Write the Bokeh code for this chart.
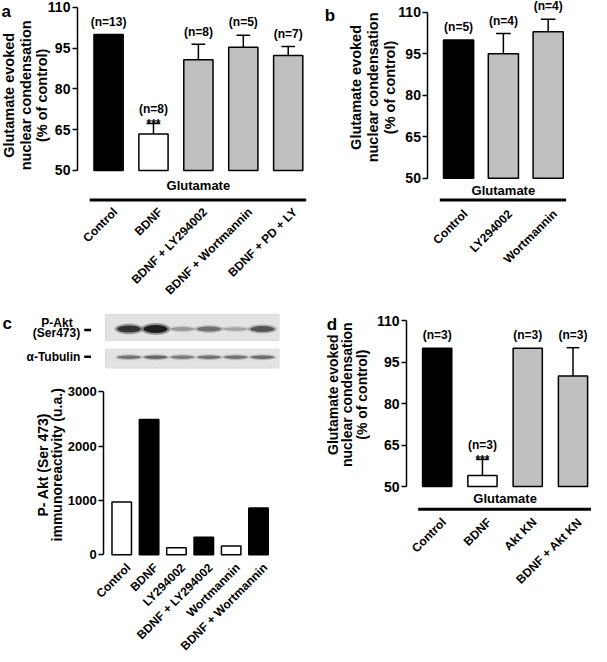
import math
from bokeh.plotting import figure
from bokeh.models import Range1d, FixedTicker, LinearAxis
from bokeh.core.properties import value
from bokeh.embed import file_html
from bokeh.resources import INLINE

FONT = "Liberation Sans"
GRAY = "#c0c0c0"

# ---------------- data ----------------
a_labels = ["Control", "BDNF", "BDNF + LY294002", "BDNF + Wortmannin", "BDNF + PD + LY"]
a_mean = [100, 63.4, 90.7, 95.3, 92.3]
a_sem = [0, 3.9, 5.7, 4.5, 3.3]
a_n = [13, 8, 8, 5, 7]
a_sig = ["", "***", "", "", ""]

b_labels = ["Control", "LY294002", "Wortmannin"]
b_mean = [100, 95.0, 103.0]
b_sem = [0, 7.4, 4.5]
b_n = [5, 4, 4]
b_sig = ["", "", ""]

c_labels = ["Control", "BDNF", "LY294002", "BDNF + LY294002", "Wortmannin", "BDNF + Wortmannin"]
c_vals = [970, 2490, 130, 320, 160, 860]

d_labels = ["Control", "BDNF", "Akt KN", "BDNF + Akt KN"]
d_mean = [100, 54.0, 100, 90.0]
d_sem = [0, 5.8, 0, 10.2]
d_n = [3, 3, 3, 3]
d_sig = ["", "***", "", ""]

cond_ticks = [50, 65, 80, 95, 110]
akt_ticks = [0, 1000, 2000, 3000]

blot_pakt = [0.85, 1.0, 0.3, 0.5, 0.25, 0.65]
blot_tub = [0.6, 0.7, 0.55, 0.6, 0.6, 0.65]

cond_title = ["Glutamate evoked", "nuclear condensation", "(% of control)"]
akt_title = ["P- Akt (Ser 473)", "immunoreactivity (u.a.)"]

# ---------------- canvas (reference pixel space) ----------------
REF_W, REF_H = 607, 662
p = figure(width=591, height=654, x_range=Range1d(0, REF_W), y_range=Range1d(REF_H, 0),
           x_axis_location=None, y_axis_location=None, min_border=0,
           output_backend="svg", toolbar_location=None)
p.outline_line_color = None
p.grid.visible = False
p.background_fill_color = "white"
p.border_fill_color = "white"

xr, yr = {}, {}


def lin(px, cal):
    p0, v0, p1, v1 = cal
    return v0 + (px - p0) * (v1 - v0) / (p1 - p0)


def scale(cal):
    p0, v0, p1, v1 = cal
    return abs((p1 - p0) / (v1 - v0))


def text(x, y, t, size, rn=None, align="center", baseline="middle", angle=0.0):
    kw = {}
    if rn:
        kw = dict(x_range_name=rn + "x", y_range_name=rn + "y")
    p.text(x=x, y=y, text=t, text_font=value(FONT), text_font_style="bold",
           text_font_size=size, text_align=align, text_baseline=baseline,
           angle=angle, text_color="black", **kw)


def bar_panel(rn, xcal, ycal, axis_px, ticks, tick_font, base,
              labels, mean, sem, n, sig, fills, bar_px, cap_px,
              glut_px, line_px, cat_px, cat_dx_px,
              title, title_x, title_y, title_font):
    xr[rn + "x"] = Range1d(lin(0, xcal), lin(REF_W, xcal))
    yr[rn + "y"] = Range1d(lin(REF_H, ycal), lin(0, ycal))
    kw = dict(x_range_name=rn + "x", y_range_name=rn + "y")
    kx, ky = scale(xcal), scale(ycal)

    ax = LinearAxis(fixed_location=lin(axis_px, xcal), **kw)
    ax.ticker = FixedTicker(ticks=ticks, minor_ticks=[])
    ax.bounds = (ticks[0], ticks[-1])
    ax.axis_line_width = 1.5
    ax.axis_line_color = "black"
    ax.major_tick_line_width = 1.5
    ax.major_tick_line_color = "black"
    ax.major_tick_out = 5
    ax.major_tick_in = 0
    ax.minor_tick_line_color = None
    ax.major_label_standoff = 2
    ax.major_label_text_font = FONT
    ax.major_label_text_font_style = "bold"
    ax.major_label_text_font_size = tick_font
    ax.major_label_text_color = "black"
    p.add_layout(ax, "left")

    xs = list(range(len(labels)))
    p.vbar(x=xs, bottom=base, top=mean, width=bar_px / kx, fill_color=fills,
           line_color="black", line_width=1.5, **kw)
    if sem is not None:
        ex = [x for x, s in zip(xs, sem) if s > 0]
        e0 = [m for m, s in zip(mean, sem) if s > 0]
        e1 = [m + s for m, s in zip(mean, sem) if s > 0]
        hw = cap_px / 2 / kx
        p.segment(x0=ex, y0=e0, x1=ex, y1=e1, line_color="black", line_width=1.5, **kw)
        p.segment(x0=[x - hw for x in ex], y0=e1, x1=[x + hw for x in ex], y1=e1,
                  line_color="black", line_width=1.5, **kw)
        tops = [m + s for m, s in zip(mean, sem)]
        ny = [t + (15 if g else 13) / ky for t, g in zip(tops, sig)]
        text(xs, ny, [f"(n={k})" for k in n], "12px", rn)
        sx = [x for x, g in zip(xs, sig) if g]
        sy = [t - 1 / ky for t, g in zip(tops, sig) if g]
        st = [g for g in sig if g]
        if sx:
            text(sx, sy, st, "12px", rn, baseline="alphabetic")
    if glut_px is not None:
        text([(len(xs) - 1) / 2], [lin(glut_px, ycal)], ["Glutamate"], "13px", rn)
        yl = lin(line_px, ycal)
        p.segment(x0=[-0.42], y0=[yl], x1=[len(xs) - 1 + 0.4], y1=[yl],
                  line_color="black", line_width=3, **kw)
    cx = [x + cat_dx_px / kx for x in xs]
    cy = [lin(cat_px, ycal)] * len(xs)
    text(cx, cy, labels, "12px", rn, align="right", angle=math.pi / 4)
    tx = [lin(v, xcal) for v in title_x]
    text(tx, [lin(title_y, ycal)] * len(tx), title, title_font, rn, angle=math.pi / 2)


# ---------------- panel a ----------------
bar_panel("a", (111, 0, 295.5, 4), (172, 50, 7, 110), 79, cond_ticks, "14px", 50,
          a_labels, a_mean, a_sem, a_n, a_sig, ["black", "white", GRAY, GRAY, GRAY],
          30, 14, 187, 202, 212, 7, cond_title, [9, 26, 43], 96, "14.5px")

# ---------------- panel b ----------------
bar_panel("b", (470.5, 0, 562.5, 2), (180, 50, 12, 110), 439, cond_ticks, "14px", 50,
          b_labels, b_mean, b_sem, b_n, b_sig, ["black", GRAY, GRAY],
          31, 15, 192, 202, 214, 7, cond_title, [365.5, 383, 400.5], 88, "14.5px")

# ---------------- panel c chart ----------------
bar_panel("c", (124.5, 0, 265, 5), (561, 0, 396, 3000), 106, akt_ticks, "13px", 0,
          c_labels, c_vals, None, None, None, ["white", "black"] * 3,
          20, 0, None, None, 572, 7, akt_title, [43.5, 58.5], 470, "14px")

# ---------------- panel d ----------------
bar_panel("d", (448.5, 0, 588, 3), (492, 50, 324, 110), 417, cond_ticks, "14px", 50,
          d_labels, d_mean, d_sem, d_n, d_sig, ["black", "white", GRAY, GRAY],
          30, 13, 504, 515, 526, 7, cond_title, [341, 356, 371.5], 399, "14px")

p.extra_x_ranges = xr
p.extra_y_ranges = yr

# ---------------- panel letters ----------------
text([1, 333, 2, 335], [11, 15, 327, 328], ["a", "b", "c", "d"], "17px",
     align="left", baseline="alphabetic")

# ---------------- panel c blot ----------------
lanes = [132 + 27.4 * i for i in range(len(blot_pakt))]
p.quad(left=[108, 108], right=[286, 286], top=[318, 353], bottom=[344, 372],
       fill_color="#e3e3e3", line_color="#d8d8d8", line_width=1)
p.ellipse(x=lanes, y=332.5, width=29, height=[4 + 8 * v for v in blot_pakt],
          width_units="screen", height_units="screen",
          fill_color="#333333", fill_alpha=[0.45 * v for v in blot_pakt], line_color=None)
p.ellipse(x=lanes, y=332.5, width=24, height=[2 + 6 * v for v in blot_pakt],
          width_units="screen", height_units="screen",
          fill_color="#111111", fill_alpha=[0.9 * v for v in blot_pakt], line_color=None)
p.ellipse(x=lanes, y=361, width=27, height=[6 for v in blot_tub],
          width_units="screen", height_units="screen",
          fill_color="#444444", fill_alpha=[0.4 * v for v in blot_tub], line_color=None)
p.ellipse(x=lanes, y=361, width=23, height=[3.5 for v in blot_tub],
          width_units="screen", height_units="screen",
          fill_color="#222222", fill_alpha=[0.8 * v for v in blot_tub], line_color=None)
text([58, 57.5], [326, 336.5], ["P-Akt", "(Ser473)"], "12px")
text([82], [361], ["\u03b1-Tubulin"], "12px", align="right")
p.segment(x0=[86, 86], y0=[333.5, 360.5], x1=[93, 93], y1=[333.5, 360.5],
          line_color="black", line_width=2.5)

open("out.html", "w").write(file_html(p, INLINE))
